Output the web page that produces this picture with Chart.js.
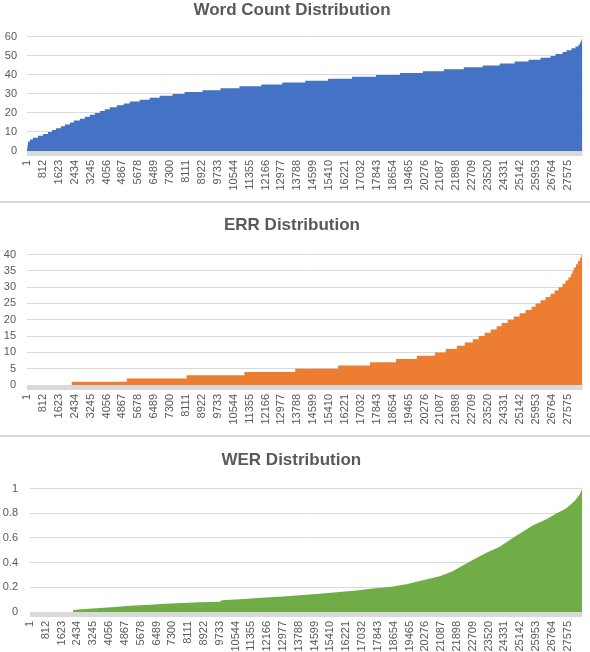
<!DOCTYPE html>
<html><head><meta charset="utf-8">
<script src="https://cdn.jsdelivr.net/npm/chart.js@4.4.1/dist/chart.umd.min.js"></script>
<style>
html,body{margin:0;padding:0;background:#fff;width:590px;height:652px;overflow:hidden}
.box{position:absolute;left:0;width:590px}
.sep{position:absolute;left:0;width:590px;height:2px;background:#d9d9d9}
canvas{display:block}
</style></head><body>
<div class="box" style="top:0;height:200px"><canvas id="c1" width="590" height="200"></canvas></div>
<div class="sep" style="top:201px"></div>
<div class="box" style="top:203px;height:232px"><canvas id="c2" width="590" height="232"></canvas></div>
<div class="sep" style="top:435px"></div>
<div class="box" style="top:437px;height:215px"><canvas id="c3" width="590" height="215"></canvas></div>
<script>
// ---- data ----
const totalCount = 28330;
const xTickLabels = [1, 812, 1623, 2434, 3245, 4056, 4867, 5678, 6489, 7300, 8111, 8922, 9733, 10544, 11355, 12166, 12977, 13788, 14599, 15410, 16221, 17032, 17843, 18654, 19465, 20276, 21087, 21898, 22709, 23520, 24331, 25142, 25953, 26764, 27575];

// Word count: sample index where each value starts
const wcIndex = [1, 15, 30, 41, 51, 153, 305, 559, 814, 1068, 1272, 1475, 1729, 1933, 2187, 2390, 2696, 2950, 3204, 3458, 3713, 3967, 4221, 4577, 4933, 5239, 5747, 6256, 6764, 7426, 8036, 8951, 9867, 10833, 11952, 13020, 14190, 15360, 16580, 17801, 19022, 20191, 21259, 22277, 23243, 24108, 24871, 25583, 26193, 26702, 26956, 27312, 27516, 27770, 27973, 28126, 28202, 28253, 28294, 28320, 28330];
const wcValue = [1, 2, 3, 4, 5, 6, 7, 8, 9, 10, 11, 12, 13, 14, 15, 16, 17, 18, 19, 20, 21, 22, 23, 24, 25, 26, 27, 28, 29, 30, 31, 32, 33, 34, 35, 36, 37, 38, 39, 40, 41, 42, 43, 44, 45, 46, 47, 48, 49, 50, 51, 52, 53, 54, 55, 56, 57, 58, 59, 60, 60];

// ERR: sample index where each value starts
const errIndex = [1, 2280, 5086, 8138, 11087, 13681, 15868, 17496, 18818, 19886, 20802, 21361, 21921, 22328, 22735, 23040, 23345, 23650, 23955, 24209, 24515, 24820, 25125, 25430, 25735, 25939, 26193, 26447, 26702, 26905, 27108, 27312, 27464, 27617, 27744, 27820, 27896, 27998, 28100, 28202, 28278, 28330];
const errValue = [0, 1, 2, 3, 4, 5, 6, 7, 8, 9, 10, 11, 12, 13, 14, 15, 16, 17, 18, 19, 20, 21, 22, 23, 24, 25, 26, 27, 28, 29, 30, 31, 32, 33, 34, 35, 36, 37, 38, 39, 40, 40];

// WER: sampled points along the sorted curve
const werIndex = [1, 2205, 2210, 2819, 3588, 4357, 5126, 6151, 6920, 7843, 8714, 9739, 9842, 10765, 11534, 12302, 13174, 14184, 15019, 15721, 16747, 17582, 18454, 19310, 20145, 21017, 21683, 22196, 22708, 23410, 24092, 24759, 25271, 25784, 26486, 26999, 27511, 27937, 28193, 28330];
const werValue = [0, 0, 0.016, 0.024, 0.032, 0.04, 0.05, 0.059, 0.067, 0.072, 0.078, 0.082, 0.096, 0.104, 0.112, 0.12, 0.128, 0.14, 0.15, 0.16, 0.174, 0.19, 0.203, 0.225, 0.257, 0.289, 0.329, 0.377, 0.422, 0.479, 0.529, 0.6, 0.65, 0.7, 0.751, 0.797, 0.84, 0.898, 0.952, 1.0];

// ---- styling ----
const TXT = '#595959';
const GRID = '#d9d9d9';
Chart.defaults.font.family = '"Liberation Sans", Arial, sans-serif';
Chart.defaults.color = TXT;

const bandPlugin = {
  id: 'band',
  beforeDatasetsDraw(chart) {
    const a = chart.chartArea, ctx = chart.ctx;
    ctx.save();
    ctx.fillStyle = GRID;
    ctx.fillRect(a.left, a.bottom, a.right - a.left, 5);
    ctx.restore();
  }
};

function makeChart(id, cfg) {
  const pts = cfg.xs.map((x, i) => ({x: x, y: cfg.ys[i]}));
  return new Chart(document.getElementById(id), {
    type: 'line',
    data: { datasets: [{
      data: pts,
      stepped: cfg.stepped,
      fill: 'origin',
      backgroundColor: cfg.color,
      borderColor: 'rgba(0,0,0,0)',
      borderWidth: 0,
      pointRadius: 0,
      tension: 0
    }]},
    plugins: [bandPlugin],
    options: {
      responsive: false,
      animation: false,
      devicePixelRatio: 1,
      events: [],
      layout: { padding: { top: cfg.padTop, right: cfg.padRight, left: 0, bottom: 0 } },
      plugins: {
        legend: { display: false },
        tooltip: { enabled: false },
        title: {
          display: true, text: cfg.title, color: TXT,
          font: { size: 17, weight: 'bold', lineHeight: 1.2 },
          padding: { top: 0, bottom: cfg.titleBottom }
        }
      },
      scales: {
        x: {
          type: 'linear', min: 0, max: totalCount,
          grid: { display: false, drawTicks: false },
          border: { display: false },
          afterBuildTicks: s => { s.ticks = xTickLabels.map(v => ({ value: v })); },
          afterFit: s => { s.height = cfg.xHeight; },
          ticks: {
            autoSkip: false, minRotation: 90, maxRotation: 90,
            padding: 9, color: TXT, font: { size: 11 },
            callback: v => String(v)
          }
        },
        y: {
          min: 0, max: cfg.yMax,
          grid: { color: GRID, lineWidth: 1, drawTicks: false },
          border: { display: false },
          afterFit: s => { s.width = cfg.yWidth; },
          ticks: {
            stepSize: cfg.yStep, padding: cfg.yPad, color: TXT, font: { size: 11 },
            callback: v => String(Number(v.toFixed(2)))
          }
        }
      }
    }
  });
}

makeChart('c1', { xs: wcIndex, ys: wcValue, stepped: 'before', color: '#4472C4',
  title: 'Word Count Distribution', padTop: 0, titleBottom: 16.5, padRight: 6,
  xHeight: 49, yWidth: 27, yMax: 60, yStep: 10, yPad: 10 });
makeChart('c2', { xs: errIndex, ys: errValue, stepped: 'before', color: '#ED7D31',
  title: 'ERR Distribution', padTop: 12.4, titleBottom: 18.7, padRight: 6,
  xHeight: 50, yWidth: 27, yMax: 40, yStep: 5, yPad: 11 });
makeChart('c3', { xs: werIndex, ys: werValue, stepped: false, color: '#70AD47',
  title: 'WER Distribution', padTop: 12.9, titleBottom: 18.2, padRight: 7.3,
  xHeight: 40, yWidth: 30, yMax: 1, yStep: 0.2, yPad: 12 });
</script>
</body></html>
